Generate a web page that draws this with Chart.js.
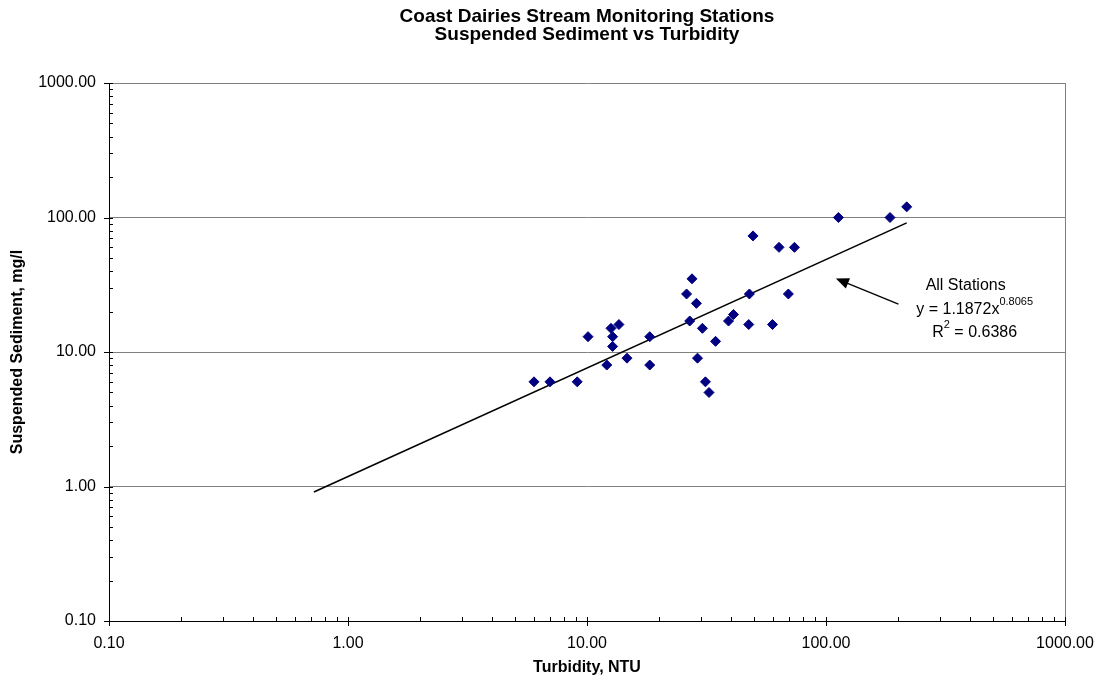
<!DOCTYPE html>
<html>
<head>
<meta charset="utf-8">
<script src="https://cdn.jsdelivr.net/npm/chart.js@4.4.1/dist/chart.umd.min.js"></script>
<style>
  html, body { margin: 0; padding: 0; background: #fff; }
</style>
</head>
<body>
<canvas id="chart" width="1098" height="681"></canvas>
<script>
const turbidity = [6.0, 7.0, 9.1, 10.1, 12.1, 12.6, 12.8, 12.8, 13.6, 14.7, 18.3, 18.3,
  26.1, 26.9, 27.5, 28.7, 29.0, 30.4, 31.3, 32.4, 34.5, 39.1, 41.0, 47.5, 47.8, 49.5,
  59.7, 63.6, 69.6, 73.8, 112.7, 185.3, 217.6];
const sediment = [6, 6, 6, 13, 8, 15, 13, 11, 16, 9, 8, 13,
  27, 17, 35, 23, 9, 15, 6, 5, 12, 17, 19, 16, 27, 73,
  16, 60, 27, 60, 100, 100, 120];

// power trend line y = 1.1872x^0.8065, ends as drawn
const trendX = [0.72, 217.6];
const trendY = [0.91, 91.2];

const decades = [0.1, 1, 10, 100, 1000];
const titleLines = ['Coast Dairies Stream Monitoring Stations', 'Suspended Sediment vs Turbidity'];
const xTitle = 'Turbidity, NTU';
const yTitle = 'Suspended Sediment, mg/l';
const fitName = 'All Stations';
const fitCoef = '1.1872';
const fitExp = '0.8065';
const fitR2 = '0.6386';

const FONT = 'Arial, "Liberation Sans", sans-serif';
Chart.defaults.font.family = FONT;
Chart.defaults.color = '#000';

function decadeTicks(scale) {
  scale.ticks = decades.map(v => ({ value: v }));
}

const axisDecor = {
  id: 'axisDecor',
  beforeDatasetsDraw(chart) {
    const { ctx, chartArea: a } = chart;
    ctx.save();
    ctx.strokeStyle = '#808080';
    ctx.lineWidth = 1;
    ctx.beginPath();
    ctx.moveTo(Math.round(a.right) + 0.5, a.top);
    ctx.lineTo(Math.round(a.right) + 0.5, a.bottom);
    ctx.stroke();
    ctx.restore();
  },
  afterDraw(chart) {
    const { ctx, chartArea: a, scales } = chart;
    const xs = scales.x, ys = scales.y;
    ctx.save();
    ctx.strokeStyle = '#000';
    ctx.lineWidth = 1;
    ctx.beginPath();
    decades.forEach((d, i) => {
      // major
      let px = Math.round(xs.getPixelForValue(d)) + 0.5;
      ctx.moveTo(px, a.bottom - 4);
      ctx.lineTo(px, a.bottom + 5);
      let py = Math.round(ys.getPixelForValue(d)) + 0.5;
      ctx.moveTo(a.left - 5, py);
      ctx.lineTo(a.left + 4, py);
      if (i === decades.length - 1) return;
      for (let m = 2; m <= 9; m++) {
        px = Math.round(xs.getPixelForValue(d * m)) + 0.5;
        ctx.moveTo(px, a.bottom - 4);
        ctx.lineTo(px, a.bottom);
        py = Math.round(ys.getPixelForValue(d * m)) + 0.5;
        ctx.moveTo(a.left, py);
        ctx.lineTo(a.left + 4, py);
      }
    });
    ctx.stroke();

    // trend label with arrow
    const tipX = xs.getPixelForValue(110), tipY = ys.getPixelForValue(35.2);
    const tailX = xs.getPixelForValue(201), tailY = ys.getPixelForValue(22.7);
    const ang = Math.atan2(tipY - tailY, tipX - tailX);
    ctx.lineWidth = 1.3;
    ctx.beginPath();
    ctx.moveTo(tailX, tailY);
    ctx.lineTo(tipX - 10 * Math.cos(ang), tipY - 10 * Math.sin(ang));
    ctx.stroke();
    ctx.fillStyle = '#000';
    ctx.beginPath();
    ctx.moveTo(tipX, tipY);
    ctx.lineTo(tipX - 13 * Math.cos(ang) + 5.5 * Math.sin(ang), tipY - 13 * Math.sin(ang) - 5.5 * Math.cos(ang));
    ctx.lineTo(tipX - 13 * Math.cos(ang) - 5.5 * Math.sin(ang), tipY - 13 * Math.sin(ang) + 5.5 * Math.cos(ang));
    ctx.closePath();
    ctx.fill();

    const cx = xs.getPixelForValue(384);
    const ly = ys.getPixelForValue(31.4);
    const big = '16px ' + FONT, small = '11px ' + FONT;
    ctx.textBaseline = 'middle';
    ctx.font = big;
    ctx.textAlign = 'center';
    ctx.fillText(fitName, cx, ly);

    ctx.textAlign = 'left';
    const l2a = 'y = ' + fitCoef + 'x';
    ctx.font = big; const w2a = ctx.measureText(l2a).width;
    ctx.font = small; const w2b = ctx.measureText(fitExp).width;
    let sx = cx + 9 - (w2a + w2b) / 2;
    ctx.font = big; ctx.fillText(l2a, sx, ly + 24);
    ctx.font = small; ctx.fillText(fitExp, sx + w2a, ly + 17);

    const l3b = ' = ' + fitR2;
    ctx.font = big; const w3a = ctx.measureText('R').width, w3c = ctx.measureText(l3b).width;
    ctx.font = small; const w3b = ctx.measureText('2').width;
    sx = cx + 9 - (w3a + w3b + w3c) / 2;
    ctx.font = big; ctx.fillText('R', sx, ly + 47);
    ctx.font = small; ctx.fillText('2', sx + w3a, ly + 40);
    ctx.font = big; ctx.fillText(l3b, sx + w3a + w3b, ly + 47);
    ctx.restore();
  }
};

new Chart(document.getElementById('chart'), {
  type: 'scatter',
  data: {
    datasets: [
      {
        label: 'All Stations',
        data: turbidity.map((x, i) => ({ x: x, y: sediment[i] })),
        pointStyle: 'rectRot',
        pointRadius: 5,
        pointHoverRadius: 5,
        backgroundColor: '#000080',
        borderColor: '#000080',
        borderWidth: 1
      },
      {
        label: 'Power trend',
        type: 'line',
        data: trendX.map((x, i) => ({ x: x, y: trendY[i] })),
        borderColor: '#000',
        borderWidth: 1.6,
        pointRadius: 0,
        fill: false
      }
    ]
  },
  options: {
    responsive: false,
    devicePixelRatio: 1,
    animation: false,
    events: [],
    layout: { padding: { left: 0, right: 33, top: 0, bottom: 0 } },
    plugins: {
      legend: { display: false },
      tooltip: { enabled: false },
      title: {
        display: true,
        fullSize: false,
        text: titleLines,
        color: '#000',
        font: { size: 19, weight: 'bold', lineHeight: '18px' },
        padding: { top: 8, bottom: 39 }
      }
    },
    scales: {
      x: {
        type: 'logarithmic',
        min: 0.1,
        max: 1000,
        afterBuildTicks: decadeTicks,
        afterFit: s => { s.height = 60; s.paddingLeft = 0; s.paddingRight = 0; },
        grid: { display: false, drawTicks: false },
        border: { color: '#000', width: 1 },
        ticks: {
          padding: 13,
          maxRotation: 0,
          font: { size: 16 },
          color: '#000',
          callback: v => Number(v).toFixed(2)
        },
        title: {
          display: true,
          text: xTitle,
          color: '#000',
          font: { size: 16, weight: 'bold' },
          padding: { top: 0, bottom: 4 }
        }
      },
      y: {
        type: 'logarithmic',
        min: 0.1,
        max: 1000,
        afterBuildTicks: decadeTicks,
        afterFit: s => { s.width = 109; s.paddingTop = 0; s.paddingBottom = 0; },
        grid: { color: '#808080', lineWidth: 1, drawTicks: false },
        border: { color: '#000', width: 1 },
        ticks: {
          padding: 13,
          font: { size: 16 },
          color: '#000',
          callback: v => Number(v).toFixed(2)
        },
        title: {
          display: true,
          text: yTitle,
          color: '#000',
          font: { size: 16, weight: 'bold' },
          padding: { top: 8, bottom: 0 }
        }
      }
    }
  },
  plugins: [axisDecor]
});
</script>
</body>
</html>
